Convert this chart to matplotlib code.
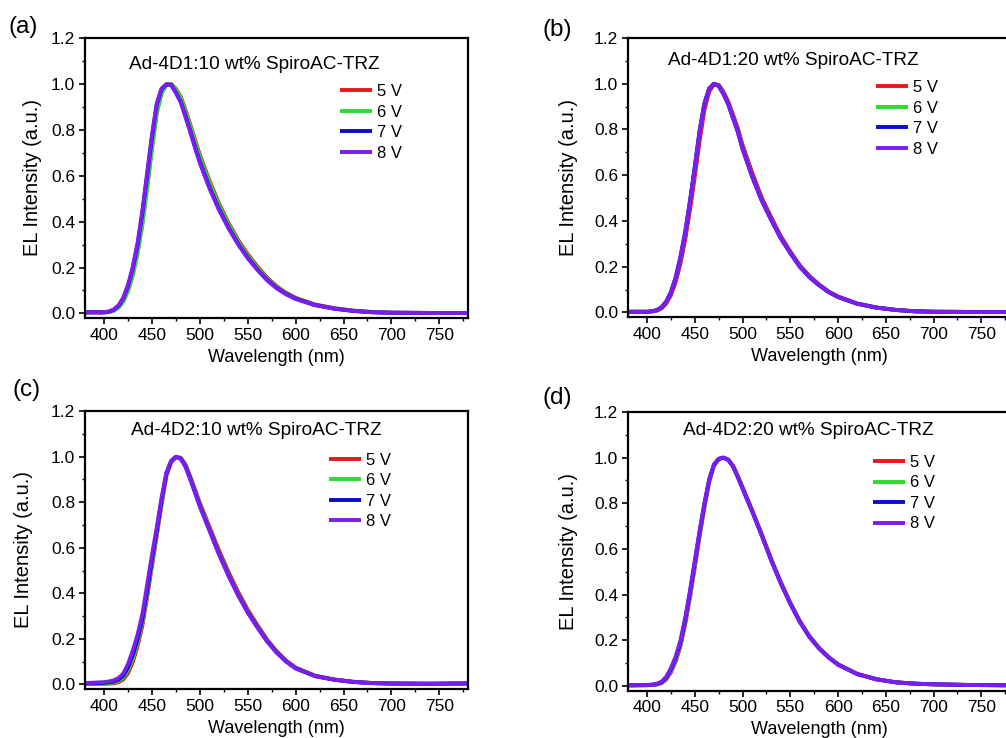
import matplotlib
matplotlib.use("Agg")
import matplotlib.pyplot as plt
from matplotlib.ticker import MultipleLocator, FormatStrFormatter

plt.rcParams['font.family'] = ['Liberation Sans', 'DejaVu Sans']

# ---------------- data ----------------
WAVELENGTH = [380, 400, 405, 410, 415, 420, 425, 430, 435, 440, 445, 450, 455, 460,
              465, 470, 475, 480, 485, 490, 495, 500, 510, 520, 530, 540, 550, 560,
              570, 580, 590, 600, 620, 640, 660, 680, 700, 740, 780]

VOLTAGES = ["5 V", "6 V", "7 V", "8 V"]
PANEL_TAGS = ["(a)", "(b)", "(c)", "(d)"]
PANEL_TITLES = ["Ad-4D1:10 wt% SpiroAC-TRZ", "Ad-4D1:20 wt% SpiroAC-TRZ",
                "Ad-4D2:10 wt% SpiroAC-TRZ", "Ad-4D2:20 wt% SpiroAC-TRZ"]
X_TICKS = [400, 450, 500, 550, 600, 650, 700, 750]
Y_TICKS = [0.0, 0.2, 0.4, 0.6, 0.8, 1.0, 1.2]

# panel (a)
A_5V = [0.004, 0.004, 0.006, 0.012, 0.026, 0.053, 0.100, 0.172, 0.268, 0.395, 0.555, 0.725, 0.878, 0.962,
        0.996, 1.000, 0.978, 0.944, 0.886, 0.822, 0.755, 0.690, 0.578, 0.478, 0.393, 0.320, 0.258, 0.205,
        0.157, 0.119, 0.090, 0.068, 0.039, 0.023, 0.012, 0.006, 0.003, 0.002, 0.002]
A_6V = [0.004, 0.004, 0.006, 0.012, 0.025, 0.052, 0.100, 0.170, 0.265, 0.390, 0.550, 0.720, 0.875, 0.960,
        0.995, 1.000, 0.975, 0.940, 0.880, 0.815, 0.748, 0.682, 0.570, 0.470, 0.386, 0.314, 0.252, 0.200,
        0.153, 0.116, 0.088, 0.066, 0.038, 0.022, 0.012, 0.006, 0.003, 0.002, 0.002]
A_7V = [0.005, 0.005, 0.008, 0.016, 0.033, 0.065, 0.120, 0.198, 0.300, 0.440, 0.605, 0.770, 0.910, 0.978,
        0.998, 0.996, 0.962, 0.922, 0.860, 0.795, 0.725, 0.660, 0.550, 0.455, 0.373, 0.303, 0.243, 0.192,
        0.147, 0.112, 0.085, 0.064, 0.037, 0.021, 0.011, 0.005, 0.003, 0.002, 0.002]
A_8V = [0.005, 0.005, 0.008, 0.017, 0.035, 0.068, 0.125, 0.205, 0.310, 0.450, 0.615, 0.780, 0.915, 0.980,
        0.998, 0.995, 0.960, 0.920, 0.855, 0.790, 0.720, 0.655, 0.545, 0.450, 0.370, 0.300, 0.240, 0.190,
        0.145, 0.110, 0.083, 0.063, 0.036, 0.021, 0.011, 0.005, 0.003, 0.002, 0.002]

# panel (b)
B_5V = [0.002, 0.002, 0.004, 0.007, 0.017, 0.038, 0.075, 0.133, 0.215, 0.320, 0.450, 0.595, 0.750, 0.885,
        0.965, 0.997, 0.995, 0.965, 0.922, 0.865, 0.805, 0.732, 0.612, 0.503, 0.416, 0.334, 0.267, 0.206,
        0.160, 0.123, 0.092, 0.070, 0.039, 0.022, 0.011, 0.005, 0.003, 0.002, 0.002]
B_6V = [0.003, 0.003, 0.005, 0.009, 0.021, 0.045, 0.086, 0.150, 0.238, 0.348, 0.482, 0.632, 0.788, 0.910,
        0.978, 1.000, 0.991, 0.957, 0.912, 0.853, 0.792, 0.718, 0.597, 0.492, 0.406, 0.326, 0.261, 0.200,
        0.155, 0.120, 0.090, 0.068, 0.038, 0.021, 0.011, 0.005, 0.003, 0.002, 0.002]
B_7V = [0.003, 0.003, 0.005, 0.010, 0.022, 0.047, 0.088, 0.153, 0.242, 0.352, 0.487, 0.637, 0.792, 0.913,
        0.979, 1.000, 0.990, 0.955, 0.910, 0.850, 0.790, 0.714, 0.594, 0.489, 0.404, 0.324, 0.259, 0.199,
        0.154, 0.119, 0.089, 0.067, 0.038, 0.021, 0.011, 0.005, 0.003, 0.002, 0.002]
B_8V = [0.003, 0.003, 0.005, 0.010, 0.023, 0.048, 0.090, 0.155, 0.245, 0.355, 0.490, 0.640, 0.795, 0.915,
        0.980, 1.000, 0.990, 0.955, 0.910, 0.850, 0.790, 0.715, 0.595, 0.490, 0.405, 0.325, 0.260, 0.200,
        0.155, 0.120, 0.090, 0.068, 0.038, 0.021, 0.011, 0.005, 0.003, 0.002, 0.002]

# panel (c)
C_5V = [0.002, 0.003, 0.004, 0.005, 0.010, 0.022, 0.050, 0.100, 0.170, 0.260, 0.385, 0.520, 0.655, 0.790,
        0.915, 0.975, 0.997, 0.995, 0.965, 0.912, 0.855, 0.796, 0.692, 0.588, 0.493, 0.406, 0.328, 0.261,
        0.198, 0.147, 0.105, 0.074, 0.039, 0.022, 0.012, 0.006, 0.004, 0.003, 0.006]
C_6V = [0.003, 0.005, 0.006, 0.009, 0.015, 0.030, 0.062, 0.115, 0.185, 0.275, 0.400, 0.535, 0.665, 0.800,
        0.920, 0.978, 0.998, 0.993, 0.960, 0.906, 0.848, 0.788, 0.683, 0.578, 0.483, 0.397, 0.320, 0.254,
        0.193, 0.143, 0.102, 0.072, 0.038, 0.021, 0.011, 0.006, 0.004, 0.003, 0.004]
C_7V = [0.004, 0.007, 0.009, 0.013, 0.021, 0.038, 0.075, 0.130, 0.200, 0.290, 0.415, 0.550, 0.675, 0.810,
        0.925, 0.980, 0.999, 0.991, 0.957, 0.902, 0.843, 0.783, 0.678, 0.573, 0.478, 0.393, 0.317, 0.252,
        0.191, 0.141, 0.101, 0.071, 0.037, 0.021, 0.011, 0.006, 0.004, 0.003, 0.004]
C_8V = [0.006, 0.010, 0.013, 0.018, 0.028, 0.048, 0.090, 0.150, 0.220, 0.310, 0.440, 0.570, 0.690, 0.820,
        0.930, 0.982, 0.999, 0.990, 0.955, 0.900, 0.840, 0.780, 0.675, 0.570, 0.475, 0.390, 0.315, 0.250,
        0.190, 0.140, 0.100, 0.070, 0.037, 0.021, 0.011, 0.006, 0.004, 0.003, 0.004]

# panel (d)
D_5V = [0.002, 0.003, 0.004, 0.006, 0.012, 0.028, 0.060, 0.108, 0.175, 0.272, 0.390, 0.520, 0.655, 0.782,
        0.893, 0.964, 0.993, 1.000, 0.992, 0.965, 0.920, 0.870, 0.770, 0.665, 0.555, 0.455, 0.364, 0.284,
        0.218, 0.167, 0.127, 0.095, 0.053, 0.030, 0.016, 0.010, 0.007, 0.004, 0.003]
D_6V = [0.002, 0.003, 0.004, 0.007, 0.014, 0.032, 0.067, 0.117, 0.185, 0.283, 0.402, 0.533, 0.665, 0.790,
        0.898, 0.967, 0.994, 1.000, 0.991, 0.963, 0.917, 0.867, 0.767, 0.662, 0.552, 0.452, 0.362, 0.282,
        0.216, 0.166, 0.126, 0.094, 0.052, 0.029, 0.016, 0.010, 0.007, 0.004, 0.003]
D_7V = [0.003, 0.004, 0.005, 0.008, 0.016, 0.036, 0.073, 0.124, 0.193, 0.292, 0.412, 0.543, 0.674, 0.796,
        0.902, 0.969, 0.995, 1.000, 0.990, 0.962, 0.915, 0.865, 0.765, 0.660, 0.550, 0.450, 0.360, 0.280,
        0.215, 0.165, 0.125, 0.093, 0.052, 0.029, 0.016, 0.010, 0.007, 0.004, 0.003]
D_8V = [0.003, 0.004, 0.006, 0.009, 0.018, 0.040, 0.078, 0.130, 0.200, 0.300, 0.420, 0.550, 0.680, 0.800,
        0.905, 0.970, 0.995, 1.000, 0.990, 0.962, 0.915, 0.865, 0.765, 0.660, 0.550, 0.450, 0.360, 0.280,
        0.215, 0.165, 0.125, 0.093, 0.052, 0.029, 0.016, 0.010, 0.007, 0.004, 0.003]

PANEL_SERIES = [[A_5V, A_6V, A_7V, A_8V],
                [B_5V, B_6V, B_7V, B_8V],
                [C_5V, C_6V, C_7V, C_8V],
                [D_5V, D_6V, D_7V, D_8V]]

# ---------------- style / layout ----------------
COLORS = ['#E8161B', '#2CDB2C', '#0C0CCC', '#7B1CF2']
W, H = 1006, 738
# axes boxes in pixels: left, top, right, bottom
BOXES = [(85, 38, 468, 318), (628, 38, 1010, 317),
         (85, 411, 468, 689), (628, 412, 1010, 690.5)]
TAG_POS = [(9, 27), (542, 30), (12, 390), (542, 398)]
TITLE_POS = [(557, 1.083), (553, 1.103), (559, 1.115), (569, 1.119)]
LEG_POS = [(0.666, 0.835), (0.649, 0.849), (0.637, 0.85), (0.641, 0.846)]
YLAB_X = [42, 578, 33, 578]

fig = plt.figure(figsize=(W / 100, H / 100), dpi=100)

for i, (l, t, r, b) in enumerate(BOXES):
    ax = fig.add_axes([l / W, 1 - b / H, (r - l) / W, (b - t) / H])
    for s, c, lab in zip(PANEL_SERIES[i], COLORS, VOLTAGES):
        ax.plot(WAVELENGTH, s, color=c, lw=2.8, label=lab, solid_capstyle='butt',
                solid_joinstyle='round')
    ax.set_xlim(380, 780)
    ax.set_ylim(-0.02, 1.2)
    ax.set_xticks(X_TICKS)
    ax.set_yticks(Y_TICKS)
    ax.xaxis.set_minor_locator(MultipleLocator(25))
    ax.yaxis.set_minor_locator(MultipleLocator(0.1))
    ax.yaxis.set_major_formatter(FormatStrFormatter('%.1f'))
    ax.tick_params(which='major', direction='out', length=4.5, width=1.2,
                   labelsize=12.5, pad=2.5, top=False, right=False)
    ax.tick_params(which='minor', direction='out', length=2.5, width=1.0,
                   top=False, right=False)
    for sp in ax.spines.values():
        sp.set_linewidth(1.6)
    ax.set_xlabel("Wavelength (nm)", fontsize=13)
    ax.set_ylabel("EL Intensity (a.u.)", fontsize=14.5)
    ax.xaxis.set_label_coords(0.5, -0.11)
    ax.yaxis.set_label_coords((YLAB_X[i] - l) / (r - l), 0.5)
    ax.text(TITLE_POS[i][0], TITLE_POS[i][1], PANEL_TITLES[i], fontsize=13.7,
            ha='center', va='center')
    ax.legend(loc='upper left', bbox_to_anchor=LEG_POS[i], borderaxespad=0,
              borderpad=0, frameon=False, handlelength=1.9, handletextpad=0.3,
              labelspacing=0.33, fontsize=12)
    fig.text(TAG_POS[i][0] / W, 1 - TAG_POS[i][1] / H, PANEL_TAGS[i],
             fontsize=17.5, ha='left', va='center')

fig.savefig("out.png", dpi=100)
